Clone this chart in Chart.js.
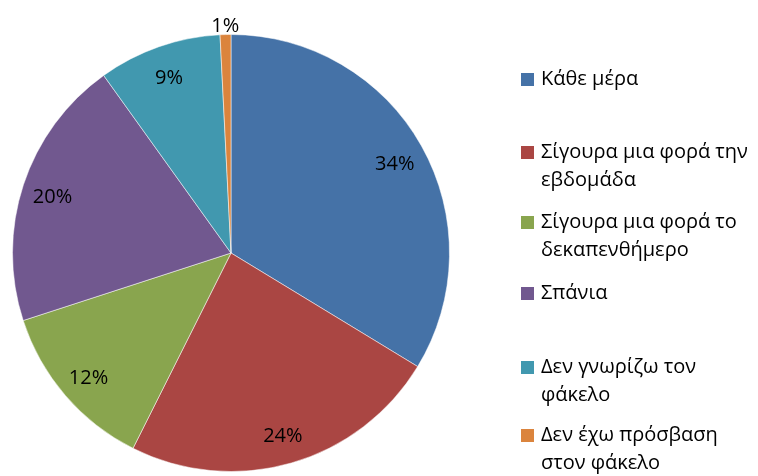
<!DOCTYPE html>
<html>
<head>
<meta charset="utf-8">
<script src="https://cdn.jsdelivr.net/npm/chart.js@4"></script>
<style>
  html, body { margin: 0; padding: 0; background: #fff; }
  #wrap { width: 758px; height: 476px; position: relative; }
</style>
</head>
<body>
<div id="wrap"><canvas id="chart" width="758" height="476"></canvas></div>
<script>
const categories = [
  ['Κάθε μέρα'],
  ['Σίγουρα μια φορά την', 'εβδομάδα'],
  ['Σίγουρα μια φορά το', 'δεκαπενθήμερο'],
  ['Σπάνια'],
  ['Δεν γνωρίζω τον', 'φάκελο'],
  ['Δεν έχω πρόσβαση', 'στον φάκελο']
];
// slice sizes
const values = [33.7, 23.7, 12.6, 20.1, 9.1, 0.8];
const percentLabels = ['34%', '24%', '12%', '20%', '9%', '1%'];
const colors = ['#4572A7', '#AA4643', '#89A54E', '#71588F', '#4198AF', '#DB843D'];

const fontFamily = "'Open Sans', 'Noto Sans', sans-serif";

// y of first text line for each legend entry
const legendRows = [79, 152, 222, 293, 367, 435];

const labelsPlugin = {
  id: 'pctLabels',
  afterDatasetsDraw(chart) {
    const ctx = chart.ctx;
    const meta = chart.getDatasetMeta(0);
    ctx.save();
    ctx.fillStyle = '#000';
    ctx.font = `20px ${fontFamily}`;
    ctx.textAlign = 'center';
    ctx.textBaseline = 'middle';
    meta.data.forEach((arc, i) => {
      const mid = (arc.startAngle + arc.endAngle) / 2;
      const r = values[i] < 3 ? arc.outerRadius * 1.05 : arc.outerRadius * 0.86;
      ctx.fillText(percentLabels[i], arc.x + Math.cos(mid) * r, arc.y + Math.sin(mid) * r + 3);
    });
    ctx.restore();
  }
};

const legendPlugin = {
  id: 'sideLegend',
  afterDraw(chart) {
    const ctx = chart.ctx;
    ctx.save();
    ctx.font = `20px ${fontFamily}`;
    ctx.textBaseline = 'middle';
    ctx.textAlign = 'left';
    categories.forEach((lines, i) => {
      const y = legendRows[i];
      ctx.fillStyle = colors[i];
      ctx.fillRect(521, y - 6, 13, 13);
      ctx.fillStyle = '#000';
      lines.forEach((t, j) => ctx.fillText(t, 541, y + j * 28));
    });
    ctx.restore();
  }
};

new Chart(document.getElementById('chart'), {
  type: 'pie',
  data: {
    labels: categories.map(c => c.join(' ')),
    datasets: [{
      data: values,
      backgroundColor: colors,
      borderColor: 'rgba(255,255,255,0.5)',
      borderWidth: 1
    }]
  },
  options: {
    responsive: false,
    animation: false,
    layout: { padding: { top: 34, bottom: 4, left: 12, right: 308 } },
    plugins: { legend: { display: false }, tooltip: { enabled: false } }
  },
  plugins: [labelsPlugin, legendPlugin]
});
</script>
</body>
</html>
